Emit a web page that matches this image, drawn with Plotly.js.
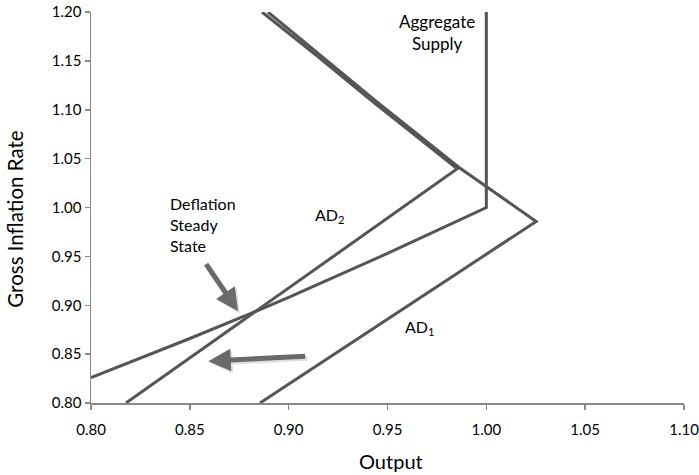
<!DOCTYPE html>
<html>
<head>
<meta charset="utf-8">
<script src="https://cdn.plot.ly/plotly-3.0.1.min.js"></script>
<style>html,body{margin:0;padding:0;background:#fff;}#chart{width:699px;height:475px;}</style>
</head>
<body>
<div id="chart"></div>
<script>
// Aggregate supply curve
var asX = [1.00, 1.00, 0.95, 0.90, 0.88, 0.85, 0.80];
var asY = [1.20, 1.00, 0.953, 0.908, 0.891, 0.866, 0.826];
// AD1 curve (upper branch then kinked lower branch)
var ad1X = [0.8895, 0.9155, 0.9445, 0.9862, 1.0252, 0.8855];
var ad1Y = [1.20, 1.1565, 1.1084, 1.0409, 0.9857, 0.80];
// AD2 curve
var ad2X = [0.8865, 0.9135, 0.9425, 0.9853, 0.8177];
var ad2Y = [1.20, 1.1565, 1.1084, 1.0396, 0.80];
// axis ticks
var xTicks = [0.80, 0.85, 0.90, 0.95, 1.00, 1.05, 1.10];
var yTicks = [0.80, 0.85, 0.90, 0.95, 1.00, 1.05, 1.10, 1.15, 1.20];

var lineStyle = {color: '#555555', width: 3};
var traces = [
  {x: asX, y: asY, mode: 'lines', line: lineStyle, hoverinfo: 'skip'},
  {x: ad1X, y: ad1Y, mode: 'lines', line: lineStyle, hoverinfo: 'skip'},
  {x: ad2X, y: ad2Y, mode: 'lines', line: lineStyle, hoverinfo: 'skip'}
];

var font = 'Lato, "Open Sans", sans-serif';
function arrow(x0, y0, x1, y1, col, sx, sy) {
  return {x: x1, y: y1, ax: x0, ay: y0, xref: 'x', yref: 'y', axref: 'x', ayref: 'y',
    showarrow: true, arrowhead: 2, arrowsize: 0.9, arrowwidth: 5, arrowcolor: col,
    text: '', xshift: sx, yshift: sy};
}
var annotations = [
  arrow(0.8577, 0.9437, 0.8744, 0.8939, 'rgba(0,0,0,0.12)', 2, -2),
  arrow(0.9091, 0.8479, 0.8593, 0.8428, 'rgba(0,0,0,0.12)', 2, -2),
  arrow(0.8577, 0.9437, 0.8744, 0.8939, '#6a6a6a', 0, 0),
  arrow(0.9091, 0.8479, 0.8593, 0.8428, '#6a6a6a', 0, 0),
  {x: 0.975, y: 1.2, xref: 'x', yref: 'y', xanchor: 'center', yanchor: 'top', yshift: 3,
   showarrow: false, align: 'center', text: 'Aggregate<br>Supply',
   font: {family: font, size: 17, color: '#000'}},
  {x: 0.8388, y: 1.013, xref: 'x', yref: 'y', xanchor: 'left', yanchor: 'top', yshift: 3,
   showarrow: false, align: 'left', text: 'Deflation<br>Steady<br>State',
   font: {family: font, size: 16, color: '#000'}},
  {x: 0.9123, y: 0.9918, xref: 'x', yref: 'y', xanchor: 'left', yanchor: 'middle',
   showarrow: false, text: 'AD<sub>2</sub>',
   font: {family: font, size: 16, color: '#000'}},
  {x: 0.9578, y: 0.8768, xref: 'x', yref: 'y', xanchor: 'left', yanchor: 'middle',
   showarrow: false, text: 'AD<sub>1</sub>',
   font: {family: font, size: 16, color: '#000'}},
  {x: 0.506, y: -0.148, xref: 'paper', yref: 'paper', xanchor: 'center', yanchor: 'middle',
   showarrow: false, text: 'Output',
   font: {family: font, size: 20, color: '#000'}},
  {x: -0.128, y: 0.469, xref: 'paper', yref: 'paper', xanchor: 'center', yanchor: 'middle',
   showarrow: false, text: 'Gross Inflation Rate', textangle: -90,
   font: {family: font, size: 20.5, color: '#000'}}
];

var axisCommon = {
  showgrid: false, zeroline: false, showline: true, linecolor: '#888888', linewidth: 1.5,
  ticks: 'outside', ticklen: 5, tickwidth: 1.5, tickcolor: '#888888',
  tickfont: {family: font, size: 15, color: '#000'}, tickformat: '.2f', fixedrange: true,
  ticklabeloverflow: 'allow'
};
var layout = {
  width: 699, height: 475,
  margin: {l: 91, r: 15, t: 12, b: 72},
  paper_bgcolor: '#fff', plot_bgcolor: '#fff',
  showlegend: false,
  xaxis: Object.assign({}, axisCommon, {range: [0.80, 1.10], tickvals: xTicks, ticklabelstandoff: 7}),
  yaxis: Object.assign({}, axisCommon, {range: [0.80, 1.20], tickvals: yTicks}),
  annotations: annotations
};
Plotly.newPlot('chart', traces, layout, {displayModeBar: false, staticPlot: true});
</script>
</body>
</html>
